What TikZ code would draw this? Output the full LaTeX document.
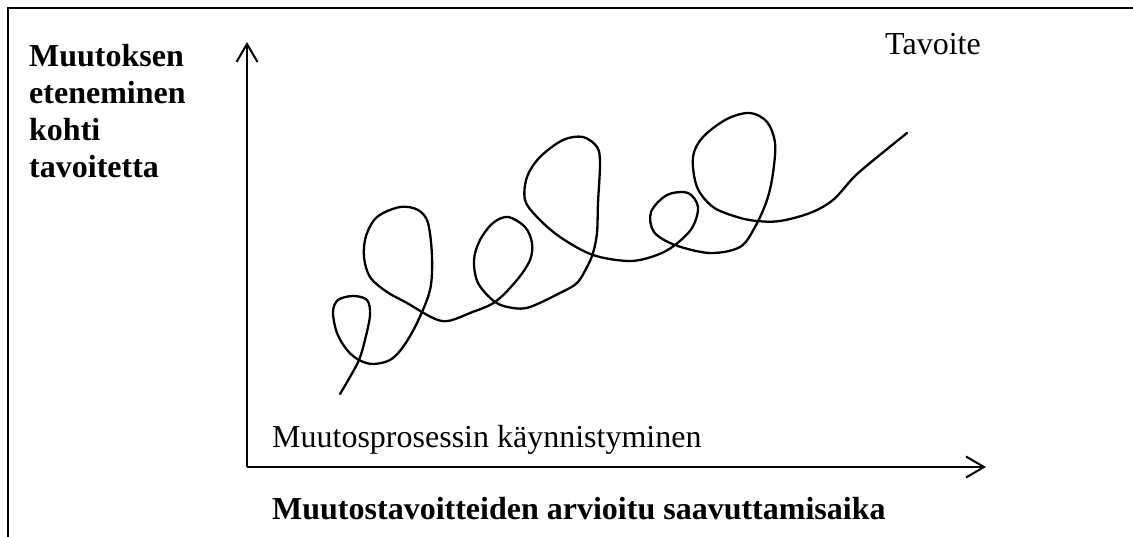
\documentclass[tikz,border=0pt]{standalone}
\usepackage{fontspec}
\setmainfont{Liberation Serif}
\usetikzlibrary{arrows.meta}
\tikzset{
  frameline/.style={line width=2.6pt},
  axisline/.style={line width=2pt,-{Straight Barb[length=18pt,width=21pt,line width=2pt]}},
  curveline/.style={line width=2.3pt,line cap=round,line join=round},
  lbl/.style={anchor=base west,inner sep=0pt,font=\fontsize{32}{37}\selectfont},
  blbl/.style={lbl,font=\fontsize{32}{37}\selectfont\bfseries},
}
\begin{document}
\begin{tikzpicture}[x=1pt,y=-1pt]
\useasboundingbox (0,0) rectangle (1133,537);
% frame
\coordinate (fbl) at (8,537);
\coordinate (ftl) at (8,8);
\coordinate (ftr) at (1133,8);
\draw[frameline] (fbl) -- (ftl) -- (ftr);
% axes
\coordinate (o) at (247,467);
\coordinate (ytip) at (247,42);
\coordinate (xtip) at (986,467);
\draw[axisline] (o) -- (ytip);
\draw[axisline] (o) -- (xtip);
% texts
\node[blbl] (l1) at (29,67) {Muutoksen};
\node[blbl] (l2) at (29,104) {eteneminen};
\node[blbl] (l3) at (29,141) {kohti};
\node[blbl] (l4) at (29,178) {tavoitetta};
\node[lbl] (goal) at (885,55) {Tavoite};
\node[lbl] (start) at (272,447) {Muutosprosessin käynnistyminen};
\node[blbl] (xlab) at (272,519) {Muutostavoitteiden arvioitu saavuttamisaika};
% curve
\draw[curveline] plot[smooth,tension=0.55] coordinates {
(340,394) (350,377) (359,360) (365,340) (370,315) (367,300) (353,296)
(338,300) (333,312) (337,333) (347,350) (359,360) (373,364) (390,360)
(403,347) (417,323) (430,290) (432,257) (428,223) (418,210) (400,207)
(377,217) (366,236) (364,257) (370,277) (387,292) (407,303) (433,318)
(448,321) (470,313) (495,302) (517,280) (530,260) (532,243) (525,227)
(508,217) (493,223) (480,240) (474,260) (478,283) (495,302) (513,308)
(530,307) (560,293) (577,283) (587,267) (593,253) (597,233) (598,203)
(600,163) (597,147) (583,137) (563,140) (540,157) (527,177) (525,200)
(537,217) (560,237) (593,255) (630,261) (657,255) (675,245) (692,228)
(698,207) (688,193) (667,195) (651,212) (654,232) (675,245) (710,253)
(740,247) (755,227) (767,200) (773,173) (775,143) (767,122) (750,113)
(727,119) (703,137) (693,157) (697,187) (713,207) (737,217) (757,221)
(780,221) (810,213) (833,200) (853,178) (870,163) (907,133)};
\end{tikzpicture}
\end{document}
